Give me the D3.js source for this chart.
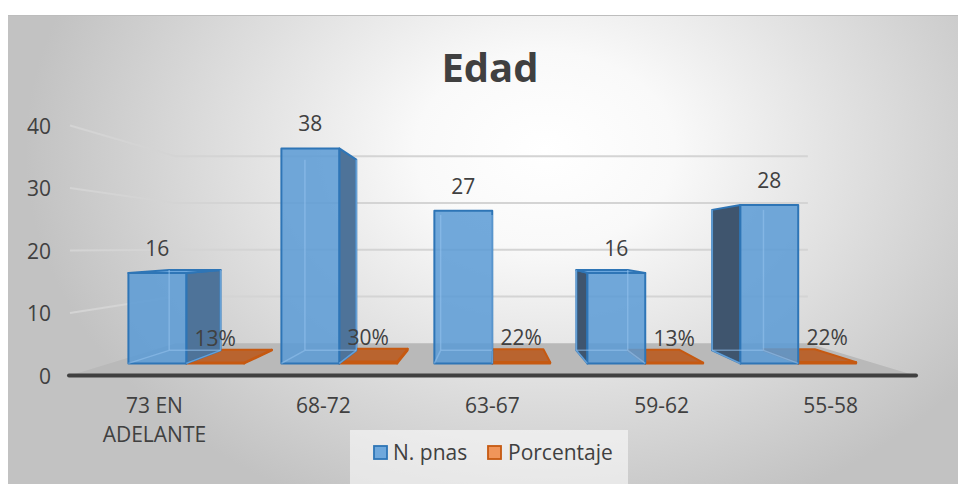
<!DOCTYPE html>
<html>
<head>
<meta charset="utf-8">
<script src="https://cdn.jsdelivr.net/npm/d3@7"></script>
<style>
  html, body { margin: 0; padding: 0; background: #ffffff; }
  svg { display: block; font-family: "Open Sans", sans-serif; }
</style>
</head>
<body>
<svg></svg>
<script>
// datos del gráfico
const categorias = ["73 EN ADELANTE", "68-72", "63-67", "59-62", "55-58"];
const nPnas = [16, 38, 27, 16, 28];
const porcentaje = [0.13, 0.30, 0.22, 0.13, 0.22];
const yTicks = [0, 10, 20, 30, 40];
const series = ["N. pnas", "Porcentaje"];

const svg = d3.select("svg")
    .attr("width", 958)
    .attr("height", 484);

const textColor = "#404040";

// fondo con degradado radial
const defs = svg.append("defs");
const grad = defs.append("radialGradient")
    .attr("id", "fondo")
    .attr("gradientUnits", "userSpaceOnUse")
    .attr("cx", 0).attr("cy", 0).attr("r", 1)
    .attr("gradientTransform", "translate(545,150) scale(520,390)");
grad.append("stop").attr("offset", 0).attr("stop-color", "#ffffff");
grad.append("stop").attr("offset", 0.25).attr("stop-color", "#f9f9f9");
grad.append("stop").attr("offset", 1).attr("stop-color", "#c2c2c2");

svg.append("rect")
    .attr("x", 8).attr("y", 15)
    .attr("width", 950).attr("height", 469)
    .attr("fill", "url(#fondo)");
svg.append("line")
    .attr("x1", 8).attr("x2", 958).attr("y1", 15.5).attr("y2", 15.5)
    .attr("stroke", "#bdbdbd");

// escalas (plano frontal) + perspectiva
const x = d3.scaleBand()
    .domain(categorias)
    .range([70, 915])
    .paddingInner(0.243)
    .paddingOuter(0.121);
const y = d3.scaleLinear().domain([0, 40]).range([375.5, 125.5]);
const prof = d3.scaleLinear().domain([0, 1]).range([1, 0.748]); // 0 = borde frontal, 1 = pared del fondo
const vx = 490, vy = 248;
const barZ0 = 0.377, barZ1 = 0.782;

function proj(X, v, z) {
    const s = prof(z);
    return [vx + s * (X - vx), vy + s * (y(v) - vy)];
}
const poly = pts => d3.line()(pts) + "Z";

// cuadrícula: pared izquierda y pared del fondo
const xL = x.range()[0], xR = x.range()[1];
yTicks.filter(t => t > 0).forEach(t => {
    svg.append("path")
        .attr("d", d3.line()([proj(xL, t, 0), proj(xL, t, 1), proj(xR, t, 1)]))
        .attr("fill", "none")
        .attr("stroke", "#d4d4d4")
        .attr("stroke-width", 2);
});

// piso
svg.append("path")
    .attr("d", poly([proj(xL, 0, 0), proj(xR, 0, 0), proj(xR, 0, 1), proj(xL, 0, 1)]))
    .attr("fill", "#b9b9b9");

// línea del eje
svg.append("line")
    .attr("x1", xL - 1).attr("x2", xR + 1)
    .attr("y1", y(0)).attr("y2", y(0))
    .attr("stroke", "#404040")
    .attr("stroke-width", 4)
    .attr("stroke-linecap", "round");

// etiquetas eje Y
svg.selectAll(".ytick")
    .data(yTicks)
    .enter()
    .append("text")
    .attr("class", "ytick")
    .attr("x", 51)
    .attr("y", d => y(d) + 1)
    .attr("dy", "0.35em")
    .attr("text-anchor", "end")
    .attr("font-size", 21)
    .attr("fill", textColor)
    .text(d => d);

// dibuja una caja 3D
function caja(g, X0, X1, v, estilo) {
    const P = (X, vv, z) => proj(X, vv, z);
    const z0 = barZ0, z1 = barZ1;
    const caras = [];
    // aristas ocultas (se ven a través de la cara frontal)
    const ocultas = [
        [P(X0, 0, z1), P(X1, 0, z1)],
        [P(X0, 0, z1), P(X0, v, z1)],
        [P(X1, 0, z1), P(X1, v, z1)],
        [P(X0, 0, z0), P(X0, 0, z1)],
        [P(X1, 0, z0), P(X1, 0, z1)]
    ];
    if (X1 < vx) caras.push({ pts: [P(X1, 0, z0), P(X1, 0, z1), P(X1, v, z1), P(X1, v, z0)], fill: estilo.derecha, op: 1 });
    if (X0 > vx) caras.push({ pts: [P(X0, 0, z0), P(X0, 0, z1), P(X0, v, z1), P(X0, v, z0)], fill: estilo.izquierda, op: 1 });
    if (y(v) > vy) caras.push({ pts: [P(X0, v, z0), P(X1, v, z0), P(X1, v, z1), P(X0, v, z1)], fill: estilo.arriba, op: estilo.opArriba });
    caras.push({ pts: [P(X0, 0, z0), P(X1, 0, z0), P(X1, v, z0), P(X0, v, z0)], fill: estilo.frente, op: estilo.opFrente });

    g.selectAll("path.cara")
        .data(caras)
        .enter()
        .append("path")
        .attr("class", "cara")
        .attr("d", d => poly(d.pts))
        .attr("fill", d => d.fill)
        .attr("fill-opacity", d => d.op)
        .attr("stroke", estilo.borde)
        .attr("stroke-width", 2)
        .attr("stroke-linejoin", "round");

    if (estilo.internas) {
        g.selectAll("path.oculta")
            .data(ocultas)
            .enter()
            .append("path")
            .attr("class", "oculta")
            .attr("d", d => d3.line()(d))
            .attr("stroke", estilo.internas)
            .attr("stroke-width", 1.5)
            .attr("fill", "none");
    }
}

const estiloAzul = {
    frente: "#5b9bd5", opFrente: 0.86,
    arriba: "#6aa6de", opArriba: 1,
    derecha: "#4e7399", izquierda: "#3f556e",
    borde: "#2e75b6", internas: "rgba(150,195,238,0.55)"
};
const estiloNaranja = {
    frente: "#c0622a", opFrente: 1,
    arriba: "#b9642f", opArriba: 1,
    derecha: "#a65527", izquierda: "#a65527",
    borde: "#c65911", internas: null
};

const bw = x.bandwidth() / 2;

const barras = svg.selectAll(".grupo")
    .data(categorias)
    .enter()
    .append("g")
    .attr("class", "grupo");

barras.each(function (c, i) {
    const g = d3.select(this);
    const X0 = x(c);
    caja(g.append("g"), X0 + bw, X0 + 2 * bw, porcentaje[i], estiloNaranja);
    caja(g.append("g"), X0, X0 + bw, nPnas[i], estiloAzul);
});

// etiquetas de datos
const fmtPct = d3.format(".0%");
svg.selectAll(".lblAzul")
    .data(categorias)
    .enter()
    .append("text")
    .attr("class", "lblAzul")
    .attr("x", c => proj(x(c) + bw / 2, 0, barZ0)[0])
    .attr("y", (c, i) => proj(x(c), nPnas[i], barZ0)[1] - 17)
    .attr("text-anchor", "middle")
    .attr("font-size", 21)
    .attr("fill", textColor)
    .text((c, i) => nPnas[i]);

svg.selectAll(".lblNaranja")
    .data(categorias)
    .enter()
    .append("text")
    .attr("class", "lblNaranja")
    .attr("x", c => proj(x(c) + bw * 1.5, 0, barZ0)[0])
    .attr("y", (c, i) => proj(x(c), porcentaje[i], barZ0)[1] - 17)
    .attr("text-anchor", "middle")
    .attr("font-size", 21)
    .attr("fill", textColor)
    .text((c, i) => fmtPct(porcentaje[i]));

// etiquetas de categoría (con salto de línea)
svg.selectAll(".cat")
    .data(categorias)
    .enter()
    .append("text")
    .attr("class", "cat")
    .attr("text-anchor", "middle")
    .attr("font-size", 21)
    .attr("fill", textColor)
    .each(function (c) {
        const t = d3.select(this);
        const cx = x(c) + x.bandwidth() / 2;
        const palabras = c.split(" ");
        let linea = [], lineas = [];
        const tmp = t.append("tspan");
        palabras.forEach(p => {
            linea.push(p);
            tmp.text(linea.join(" "));
            if (tmp.node().getComputedTextLength() > 125 && linea.length > 1) {
                linea.pop();
                lineas.push(linea.join(" "));
                linea = [p];
            }
        });
        lineas.push(linea.join(" "));
        tmp.remove();
        lineas.forEach((l, k) => {
            t.append("tspan")
                .attr("x", cx)
                .attr("y", 413 + k * 29)
                .text(l);
        });
    });

// título
svg.append("text")
    .attr("x", 490)
    .attr("y", 82)
    .attr("text-anchor", "middle")
    .attr("font-size", 40)
    .attr("font-weight", "bold")
    .attr("fill", textColor)
    .text("Edad");

// leyenda
svg.append("rect")
    .attr("x", 350).attr("y", 430)
    .attr("width", 278).attr("height", 54)
    .attr("fill", "#ffffff")
    .attr("fill-opacity", 0.55);

const leyenda = [
    { nombre: series[0], fill: "#6fa8dc", stroke: "#2e75b6", x: 374, tx: 393 },
    { nombre: series[1], fill: "#f0955a", stroke: "#c65911", x: 488, tx: 508 }
];
const ley = svg.selectAll(".ley")
    .data(leyenda)
    .enter()
    .append("g")
    .attr("class", "ley");
ley.append("rect")
    .attr("x", d => d.x).attr("y", 446)
    .attr("width", 13).attr("height", 13)
    .attr("fill", d => d.fill)
    .attr("stroke", d => d.stroke)
    .attr("stroke-width", 1.8);
ley.append("text")
    .attr("x", d => d.tx).attr("y", 460)
    .attr("font-size", 21)
    .attr("fill", textColor)
    .text(d => d.nombre);
</script>
</body>
</html>
